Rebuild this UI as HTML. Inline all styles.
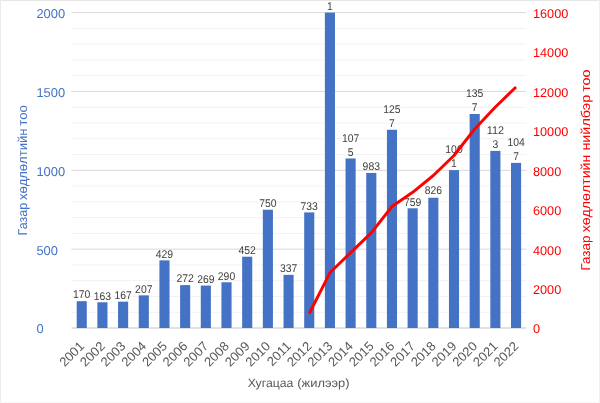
<!DOCTYPE html>
<html><head><meta charset="utf-8"><title>chart</title>
<style>html,body{margin:0;padding:0;background:#fff;}body{width:600px;height:403px;overflow:hidden;}svg{display:block;will-change:transform;}text{font-family:"Liberation Sans",sans-serif;text-rendering:geometricPrecision;}</style></head><body>
<svg width="600" height="403" viewBox="0 0 600 403">
<rect x="0" y="0" width="600" height="1" fill="#E6E6E6"/>
<rect x="0" y="0" width="1" height="403" fill="#EBEBEB"/>
<rect x="599" y="0" width="1" height="403" fill="#F0F0F0"/>
<rect x="0" y="402" width="600" height="1" fill="#F8F8F8"/>
<line x1="71.4" x2="526.4" y1="312.23" y2="312.23" stroke="#F2F2F2" stroke-width="1"/>
<line x1="71.4" x2="526.4" y1="296.46" y2="296.46" stroke="#F2F2F2" stroke-width="1"/>
<line x1="71.4" x2="526.4" y1="280.69" y2="280.69" stroke="#F2F2F2" stroke-width="1"/>
<line x1="71.4" x2="526.4" y1="264.92" y2="264.92" stroke="#F2F2F2" stroke-width="1"/>
<line x1="71.4" x2="526.4" y1="233.38" y2="233.38" stroke="#F2F2F2" stroke-width="1"/>
<line x1="71.4" x2="526.4" y1="217.61" y2="217.61" stroke="#F2F2F2" stroke-width="1"/>
<line x1="71.4" x2="526.4" y1="201.84" y2="201.84" stroke="#F2F2F2" stroke-width="1"/>
<line x1="71.4" x2="526.4" y1="186.07" y2="186.07" stroke="#F2F2F2" stroke-width="1"/>
<line x1="71.4" x2="526.4" y1="154.53" y2="154.53" stroke="#F2F2F2" stroke-width="1"/>
<line x1="71.4" x2="526.4" y1="138.76" y2="138.76" stroke="#F2F2F2" stroke-width="1"/>
<line x1="71.4" x2="526.4" y1="122.99" y2="122.99" stroke="#F2F2F2" stroke-width="1"/>
<line x1="71.4" x2="526.4" y1="107.22" y2="107.22" stroke="#F2F2F2" stroke-width="1"/>
<line x1="71.4" x2="526.4" y1="75.68" y2="75.68" stroke="#F2F2F2" stroke-width="1"/>
<line x1="71.4" x2="526.4" y1="59.91" y2="59.91" stroke="#F2F2F2" stroke-width="1"/>
<line x1="71.4" x2="526.4" y1="44.14" y2="44.14" stroke="#F2F2F2" stroke-width="1"/>
<line x1="71.4" x2="526.4" y1="28.37" y2="28.37" stroke="#F2F2F2" stroke-width="1"/>
<line x1="71.4" x2="526.4" y1="249.15" y2="249.15" stroke="#D9D9D9" stroke-width="1"/>
<line x1="71.4" x2="526.4" y1="170.30" y2="170.30" stroke="#D9D9D9" stroke-width="1"/>
<line x1="71.4" x2="526.4" y1="91.45" y2="91.45" stroke="#D9D9D9" stroke-width="1"/>
<line x1="71.4" x2="526.4" y1="12.60" y2="12.60" stroke="#D9D9D9" stroke-width="1"/>
<line x1="71.4" x2="526.4" y1="328.0" y2="328.0" stroke="#D9D9D9" stroke-width="1.6"/>
<rect x="76.69" y="301.19" width="10.1" height="26.81" fill="#4472C4"/>
<rect x="97.37" y="302.29" width="10.1" height="25.71" fill="#4472C4"/>
<rect x="118.05" y="301.66" width="10.1" height="26.34" fill="#4472C4"/>
<rect x="138.74" y="295.36" width="10.1" height="32.64" fill="#4472C4"/>
<rect x="159.42" y="260.35" width="10.1" height="67.65" fill="#4472C4"/>
<rect x="180.10" y="285.11" width="10.1" height="42.89" fill="#4472C4"/>
<rect x="200.78" y="285.58" width="10.1" height="42.42" fill="#4472C4"/>
<rect x="221.46" y="282.27" width="10.1" height="45.73" fill="#4472C4"/>
<rect x="242.15" y="256.72" width="10.1" height="71.28" fill="#4472C4"/>
<rect x="262.83" y="209.73" width="10.1" height="118.27" fill="#4472C4"/>
<rect x="283.51" y="274.86" width="10.1" height="53.14" fill="#4472C4"/>
<rect x="304.19" y="212.41" width="10.1" height="115.59" fill="#4472C4"/>
<rect x="324.87" y="12.60" width="10.1" height="315.40" fill="#4472C4"/>
<rect x="345.55" y="158.47" width="10.1" height="169.53" fill="#4472C4"/>
<rect x="366.24" y="172.98" width="10.1" height="155.02" fill="#4472C4"/>
<rect x="386.92" y="129.77" width="10.1" height="198.23" fill="#4472C4"/>
<rect x="407.60" y="208.31" width="10.1" height="119.69" fill="#4472C4"/>
<rect x="428.28" y="197.74" width="10.1" height="130.26" fill="#4472C4"/>
<rect x="448.96" y="170.14" width="10.1" height="157.86" fill="#4472C4"/>
<rect x="469.65" y="114.00" width="10.1" height="214.00" fill="#4472C4"/>
<rect x="490.33" y="150.90" width="10.1" height="177.10" fill="#4472C4"/>
<rect x="511.01" y="162.89" width="10.1" height="165.11" fill="#4472C4"/>
<text x="36.4" y="333.40" font-size="12.9" fill="#4472C4">0</text>
<text x="36.4" y="254.55" font-size="12.9" fill="#4472C4">500</text>
<text x="36.4" y="175.70" font-size="12.9" fill="#4472C4">1000</text>
<text x="36.4" y="96.85" font-size="12.9" fill="#4472C4">1500</text>
<text x="36.4" y="18.00" font-size="12.9" fill="#4472C4">2000</text>
<text x="533.0" y="333.40" font-size="12.7" fill="#FF0000">0</text>
<text x="533.0" y="293.97" font-size="12.7" fill="#FF0000">2000</text>
<text x="533.0" y="254.55" font-size="12.7" fill="#FF0000">4000</text>
<text x="533.0" y="215.13" font-size="12.7" fill="#FF0000">6000</text>
<text x="533.0" y="175.70" font-size="12.7" fill="#FF0000">8000</text>
<text x="533.0" y="136.28" font-size="12.7" fill="#FF0000">10000</text>
<text x="533.0" y="96.85" font-size="12.7" fill="#FF0000">12000</text>
<text x="533.0" y="57.43" font-size="12.7" fill="#FF0000">14000</text>
<text x="533.0" y="18.00" font-size="12.7" fill="#FF0000">16000</text>
<text x="81.74" y="297.75" font-size="11.2" fill="#404040" text-anchor="middle" textLength="17.34" lengthAdjust="spacingAndGlyphs">170</text>
<text x="102.42" y="300.00" font-size="11.2" fill="#404040" text-anchor="middle" textLength="17.34" lengthAdjust="spacingAndGlyphs">163</text>
<text x="123.10" y="298.75" font-size="11.2" fill="#404040" text-anchor="middle" textLength="17.34" lengthAdjust="spacingAndGlyphs">167</text>
<text x="143.79" y="292.50" font-size="11.2" fill="#404040" text-anchor="middle" textLength="17.34" lengthAdjust="spacingAndGlyphs">207</text>
<text x="164.47" y="257.75" font-size="11.2" fill="#404040" text-anchor="middle" textLength="17.34" lengthAdjust="spacingAndGlyphs">429</text>
<text x="185.15" y="281.50" font-size="11.2" fill="#404040" text-anchor="middle" textLength="17.34" lengthAdjust="spacingAndGlyphs">272</text>
<text x="205.83" y="282.50" font-size="11.2" fill="#404040" text-anchor="middle" textLength="17.34" lengthAdjust="spacingAndGlyphs">269</text>
<text x="226.51" y="279.75" font-size="11.2" fill="#404040" text-anchor="middle" textLength="17.34" lengthAdjust="spacingAndGlyphs">290</text>
<text x="247.20" y="253.75" font-size="11.2" fill="#404040" text-anchor="middle" textLength="17.34" lengthAdjust="spacingAndGlyphs">452</text>
<text x="267.88" y="206.90" font-size="11.2" fill="#404040" text-anchor="middle" textLength="17.34" lengthAdjust="spacingAndGlyphs">750</text>
<text x="288.56" y="271.90" font-size="11.2" fill="#404040" text-anchor="middle" textLength="17.34" lengthAdjust="spacingAndGlyphs">337</text>
<text x="309.24" y="209.75" font-size="11.2" fill="#404040" text-anchor="middle" textLength="17.34" lengthAdjust="spacingAndGlyphs">733</text>
<text x="329.92" y="-4.00" font-size="11.2" fill="#404040" text-anchor="middle" textLength="17.34" lengthAdjust="spacingAndGlyphs">215</text>
<text x="329.92" y="10.00" font-size="11.2" fill="#404040" text-anchor="middle" textLength="5.78" lengthAdjust="spacingAndGlyphs">1</text>
<text x="350.60" y="141.70" font-size="11.2" fill="#404040" text-anchor="middle" textLength="17.34" lengthAdjust="spacingAndGlyphs">107</text>
<text x="350.60" y="155.70" font-size="11.2" fill="#404040" text-anchor="middle" textLength="5.78" lengthAdjust="spacingAndGlyphs">5</text>
<text x="371.29" y="169.50" font-size="11.2" fill="#404040" text-anchor="middle" textLength="17.34" lengthAdjust="spacingAndGlyphs">983</text>
<text x="391.97" y="112.50" font-size="11.2" fill="#404040" text-anchor="middle" textLength="17.34" lengthAdjust="spacingAndGlyphs">125</text>
<text x="391.97" y="126.50" font-size="11.2" fill="#404040" text-anchor="middle" textLength="5.78" lengthAdjust="spacingAndGlyphs">7</text>
<text x="412.65" y="205.60" font-size="11.2" fill="#404040" text-anchor="middle" textLength="17.34" lengthAdjust="spacingAndGlyphs">759</text>
<text x="433.33" y="194.40" font-size="11.2" fill="#404040" text-anchor="middle" textLength="17.34" lengthAdjust="spacingAndGlyphs">826</text>
<text x="454.01" y="152.50" font-size="11.2" fill="#404040" text-anchor="middle" textLength="17.34" lengthAdjust="spacingAndGlyphs">100</text>
<text x="454.01" y="166.50" font-size="11.2" fill="#404040" text-anchor="middle" textLength="5.78" lengthAdjust="spacingAndGlyphs">1</text>
<text x="474.70" y="96.50" font-size="11.2" fill="#404040" text-anchor="middle" textLength="17.34" lengthAdjust="spacingAndGlyphs">135</text>
<text x="474.70" y="110.50" font-size="11.2" fill="#404040" text-anchor="middle" textLength="5.78" lengthAdjust="spacingAndGlyphs">7</text>
<text x="495.38" y="133.50" font-size="11.2" fill="#404040" text-anchor="middle" textLength="17.34" lengthAdjust="spacingAndGlyphs">112</text>
<text x="495.38" y="147.50" font-size="11.2" fill="#404040" text-anchor="middle" textLength="5.78" lengthAdjust="spacingAndGlyphs">3</text>
<text x="516.06" y="146.00" font-size="11.2" fill="#404040" text-anchor="middle" textLength="17.34" lengthAdjust="spacingAndGlyphs">104</text>
<text x="516.06" y="160.00" font-size="11.2" fill="#404040" text-anchor="middle" textLength="5.78" lengthAdjust="spacingAndGlyphs">7</text>
<text transform="translate(85.04,347.00) rotate(-45)" font-size="12.95" fill="#595959" text-anchor="end">2001</text>
<text transform="translate(105.72,347.00) rotate(-45)" font-size="12.95" fill="#595959" text-anchor="end">2002</text>
<text transform="translate(126.40,347.00) rotate(-45)" font-size="12.95" fill="#595959" text-anchor="end">2003</text>
<text transform="translate(147.09,347.00) rotate(-45)" font-size="12.95" fill="#595959" text-anchor="end">2004</text>
<text transform="translate(167.77,347.00) rotate(-45)" font-size="12.95" fill="#595959" text-anchor="end">2005</text>
<text transform="translate(188.45,347.00) rotate(-45)" font-size="12.95" fill="#595959" text-anchor="end">2006</text>
<text transform="translate(209.13,347.00) rotate(-45)" font-size="12.95" fill="#595959" text-anchor="end">2007</text>
<text transform="translate(229.81,347.00) rotate(-45)" font-size="12.95" fill="#595959" text-anchor="end">2008</text>
<text transform="translate(250.50,347.00) rotate(-45)" font-size="12.95" fill="#595959" text-anchor="end">2009</text>
<text transform="translate(271.18,347.00) rotate(-45)" font-size="12.95" fill="#595959" text-anchor="end">2010</text>
<text transform="translate(291.86,347.00) rotate(-45)" font-size="12.95" fill="#595959" text-anchor="end">2011</text>
<text transform="translate(312.54,347.00) rotate(-45)" font-size="12.95" fill="#595959" text-anchor="end">2012</text>
<text transform="translate(333.22,347.00) rotate(-45)" font-size="12.95" fill="#595959" text-anchor="end">2013</text>
<text transform="translate(353.90,347.00) rotate(-45)" font-size="12.95" fill="#595959" text-anchor="end">2014</text>
<text transform="translate(374.59,347.00) rotate(-45)" font-size="12.95" fill="#595959" text-anchor="end">2015</text>
<text transform="translate(395.27,347.00) rotate(-45)" font-size="12.95" fill="#595959" text-anchor="end">2016</text>
<text transform="translate(415.95,347.00) rotate(-45)" font-size="12.95" fill="#595959" text-anchor="end">2017</text>
<text transform="translate(436.63,347.00) rotate(-45)" font-size="12.95" fill="#595959" text-anchor="end">2018</text>
<text transform="translate(457.31,347.00) rotate(-45)" font-size="12.95" fill="#595959" text-anchor="end">2019</text>
<text transform="translate(478.00,347.00) rotate(-45)" font-size="12.95" fill="#595959" text-anchor="end">2020</text>
<text transform="translate(498.68,347.00) rotate(-45)" font-size="12.95" fill="#595959" text-anchor="end">2021</text>
<text transform="translate(519.36,347.00) rotate(-45)" font-size="12.95" fill="#595959" text-anchor="end">2022</text>
<polyline points="309.24,313.50 329.92,272.80 350.60,252.60 371.29,232.90 391.97,206.50 412.65,192.30 433.33,175.50 454.01,155.50 474.70,129.00 495.38,107.00 516.06,87.00" fill="none" stroke="#FF0000" stroke-width="2.9" stroke-linecap="butt" stroke-linejoin="round"/>
<text x="247.7" y="386.6" font-size="12" fill="#595959" textLength="45.6" lengthAdjust="spacingAndGlyphs">Хугацаа</text>
<text x="297.3" y="386.6" font-size="12" fill="#595959" textLength="52.3" lengthAdjust="spacingAndGlyphs">(жилээр)</text>
<text transform="translate(27.0,235.40) rotate(-90)" font-size="12.8" fill="#4472C4" textLength="32.60" lengthAdjust="spacingAndGlyphs">Газар</text>
<text transform="translate(27.0,200.10) rotate(-90)" font-size="12.8" fill="#4472C4" textLength="71.50" lengthAdjust="spacingAndGlyphs">хөдлөлтийн</text>
<text transform="translate(27.0,125.70) rotate(-90)" font-size="12.8" fill="#4472C4" textLength="20.70" lengthAdjust="spacingAndGlyphs">тоо</text>
<text transform="translate(590.3,270.50) rotate(-90)" font-size="12.8" fill="#FF0000" textLength="34.90" lengthAdjust="spacingAndGlyphs">Газар</text>
<text transform="translate(590.3,232.30) rotate(-90)" font-size="12.8" fill="#FF0000" textLength="77.50" lengthAdjust="spacingAndGlyphs">хөдлөлтийн</text>
<text transform="translate(590.3,150.60) rotate(-90)" font-size="12.8" fill="#FF0000" textLength="55.80" lengthAdjust="spacingAndGlyphs">нийлбэр</text>
<text transform="translate(590.3,91.80) rotate(-90)" font-size="12.8" fill="#FF0000" textLength="22.40" lengthAdjust="spacingAndGlyphs">тоо</text>
</svg></body></html>
